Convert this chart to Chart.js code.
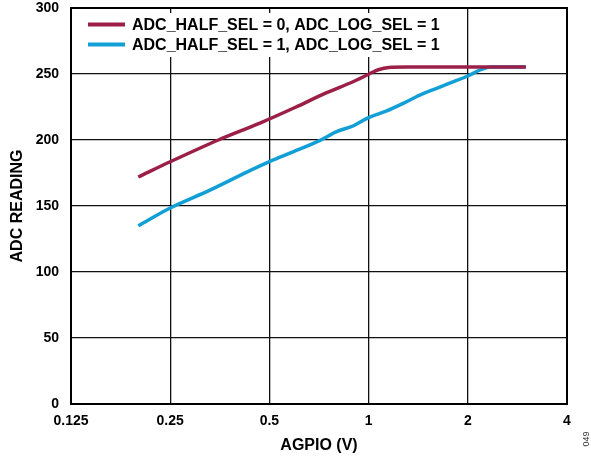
<!DOCTYPE html>
<html>
<head>
<meta charset="utf-8">
<script src="https://cdn.jsdelivr.net/npm/chart.js@4/dist/chart.umd.min.js"></script>
<style>
html,body{margin:0;padding:0;background:#fff;}
canvas{display:block;}
</style>
</head>
<body>
<canvas id="c" width="591" height="458"></canvas>
<script>
const xTicks = [0.125, 0.25, 0.5, 1, 2, 4];
const yTicks = [0, 50, 100, 150, 200, 250, 300];

const seriesLabels = [
  'ADC_HALF_SEL = 0, ADC_LOG_SEL = 1',
  'ADC_HALF_SEL = 1, ADC_LOG_SEL = 1'
];

const redVolts    = [0.2, 0.25, 0.35, 0.47, 0.6, 0.74, 0.9, 1.0, 1.07, 1.15, 1.3, 2.0, 3.0];
const redReadings = [172, 183.5, 200, 213, 224.8, 235.5, 244.3, 249.8, 253.2, 255, 255.3, 255.3, 255.3];

const blueVolts    = [0.2, 0.25, 0.33, 0.43, 0.5, 0.59, 0.71, 0.8, 0.9, 1.0, 1.135, 1.275, 1.43, 1.61, 1.81, 2.0, 2.2, 2.34, 3.0];
const blueReadings = [135, 148.5, 162, 176, 183.6, 191, 199.5, 206.3, 210.8, 217, 222, 227.8, 234, 239.2, 244.2, 248.5, 253.5, 255.3, 255.3];

const colors = ['#9c1f48', '#129fd6'];
const FONT = 'Arial, "Liberation Sans", Helvetica, sans-serif';

function pts(xs, ys){ return xs.map((x,i)=>({x:x, y:ys[i]})); }

const legendPlugin = {
  id: 'insideLegend',
  afterDatasetsDraw(chart){
    const ctx = chart.ctx;
    ctx.save();
    ctx.fillStyle = '#fff';
    ctx.fillRect(76, 13, 378, 44);
    ctx.font = 'bold 16px ' + FONT;
    ctx.textBaseline = 'middle';
    ctx.textAlign = 'left';
    const rows = [25, 45];
    chart.data.datasets.forEach((ds, i) => {
      ctx.strokeStyle = ds.borderColor;
      ctx.lineWidth = 4;
      ctx.beginPath();
      ctx.moveTo(88, rows[i] - 0.5);
      ctx.lineTo(125, rows[i] - 0.5);
      ctx.stroke();
      ctx.fillStyle = '#000';
      ctx.fillText(ds.label, 132, rows[i] + 1);
    });
    ctx.restore();
  },
  afterDraw(chart){
    const ctx = chart.ctx, a = chart.chartArea;
    ctx.save();
    ctx.strokeStyle = '#000';
    ctx.lineWidth = 2;
    ctx.strokeRect(a.left, a.top, a.right - a.left, a.bottom - a.top);
    ctx.translate(587, 439);
    ctx.rotate(-Math.PI/2);
    ctx.font = '9px ' + FONT;
    ctx.fillStyle = '#333';
    ctx.textAlign = 'center';
    ctx.textBaseline = 'middle';
    ctx.fillText('049', 0, 0);
    ctx.restore();
  }
};

new Chart(document.getElementById('c'), {
  type: 'line',
  data: {
    datasets: [
      { label: seriesLabels[0], data: pts(redVolts, redReadings), borderColor: colors[0], backgroundColor: colors[0],
        borderWidth: 3.5, pointRadius: 0, cubicInterpolationMode: 'monotone', fill: false },
      { label: seriesLabels[1], data: pts(blueVolts, blueReadings), borderColor: colors[1], backgroundColor: colors[1],
        borderWidth: 3.5, pointRadius: 0, cubicInterpolationMode: 'monotone', fill: false }
    ]
  },
  options: {
    responsive: false,
    animation: false,
    devicePixelRatio: 1,
    layout: { padding: { left: 0, right: 24, top: 8, bottom: 0 } },
    plugins: { legend: { display: false }, tooltip: { enabled: false } },
    scales: {
      x: {
        type: 'logarithmic',
        min: 0.125, max: 4,
        afterBuildTicks(scale){ scale.ticks = xTicks.map(v => ({ value: v })); },
        afterFit(scale){ scale.height = 54; },
        ticks: {
          autoSkip: false, maxRotation: 0, padding: 9, color: '#000',
          font: { family: FONT, size: 14, weight: 'bold' },
          callback: (v) => String(v)
        },
        grid: { color: '#111', lineWidth: 1.3, drawTicks: false },
        border: { display: true, color: '#000', width: 2 },
        title: { display: true, text: 'AGPIO (V)', color: '#000',
          font: { family: FONT, size: 16, weight: 'bold' }, padding: { top: 0, bottom: 3 } }
      },
      y: {
        type: 'linear',
        min: 0, max: 300,
        afterBuildTicks(scale){ scale.ticks = yTicks.map(v => ({ value: v })); },
        afterFit(scale){ scale.width = 71; scale.paddingTop = 0; },
        ticks: {
          padding: 12, color: '#000',
          font: { family: FONT, size: 14, weight: 'bold' }
        },
        grid: { color: '#111', lineWidth: 1.3, drawTicks: false },
        border: { display: true, color: '#000', width: 2 },
        title: { display: true, text: 'ADC READING', color: '#000',
          font: { family: FONT, size: 16, weight: 'bold' }, padding: { top: 8, bottom: 0 } }
      }
    }
  },
  plugins: [legendPlugin]
});
</script>
</body>
</html>
